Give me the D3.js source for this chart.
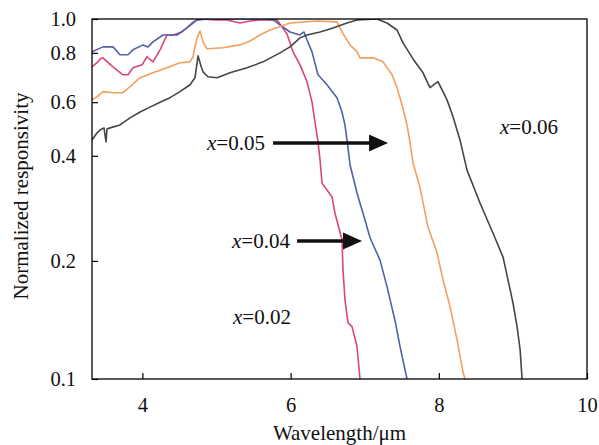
<html><head>
<meta charset="utf-8">
<script src="https://d3js.org/d3.v7.min.js"></script>
</head>
<body style="margin:0;background:#fff">
<script type="text/javascript">

// x = 0.02 (pink)
var wl02 = [3.32, 3.401, 3.428, 3.468, 3.603, 3.738, 3.806, 3.873, 3.995, 4.062, 4.143, 4.238, 4.332, 4.413, 4.535, 4.67, 4.737, 4.818, 4.98, 5.142, 5.317, 5.452, 5.587, 5.817, 5.952, 6.033, 6.127, 6.222, 6.289, 6.329, 6.37, 6.397, 6.424, 6.559, 6.599, 6.694, 6.707, 6.734, 6.775, 6.829, 6.896, 6.937];
var r02  = [0.737, 0.759, 0.772, 0.777, 0.737, 0.704, 0.704, 0.733, 0.746, 0.782, 0.759, 0.816, 0.9, 0.9, 0.918, 0.974, 0.994, 1.0, 0.994, 0.994, 0.974, 0.987, 0.994, 0.994, 0.906, 0.805, 0.746, 0.676, 0.6, 0.517, 0.444, 0.39, 0.334, 0.305, 0.274, 0.23, 0.19, 0.159, 0.139, 0.136, 0.121, 0.1];

// x = 0.04 (blue)
var wl04 = [3.32, 3.468, 3.603, 3.698, 3.806, 3.873, 4.009, 4.076, 4.143, 4.278, 4.467, 4.602, 4.737, 4.912, 5.655, 5.763, 5.992, 6.127, 6.181, 6.222, 6.289, 6.37, 6.491, 6.626, 6.694, 6.734, 6.775, 6.802, 6.896, 7.004, 7.072, 7.207, 7.301, 7.409, 7.477, 7.571];
var r04  = [0.805, 0.832, 0.832, 0.791, 0.791, 0.816, 0.843, 0.832, 0.86, 0.9, 0.9, 0.943, 0.994, 1.0, 1.0, 0.994, 0.918, 0.9, 0.918, 0.871, 0.805, 0.704, 0.664, 0.616, 0.557, 0.505, 0.425, 0.377, 0.313, 0.262, 0.233, 0.201, 0.172, 0.141, 0.121, 0.1];

// x = 0.05 (orange)
var wl05 = [3.32, 3.387, 3.468, 3.603, 3.738, 3.86, 3.968, 4.143, 4.332, 4.508, 4.643, 4.683, 4.737, 4.778, 4.818, 4.872, 5.088, 5.317, 5.452, 5.587, 5.722, 5.992, 6.356, 6.626, 6.694, 6.802, 6.896, 6.937, 7.112, 7.247, 7.369, 7.436, 7.504, 7.571, 7.611, 7.652, 7.746, 7.854, 7.976, 8.057, 8.151, 8.246, 8.327, 8.354];
var r05  = [0.608, 0.619, 0.638, 0.634, 0.634, 0.664, 0.692, 0.712, 0.733, 0.755, 0.759, 0.782, 0.883, 0.924, 0.86, 0.822, 0.827, 0.843, 0.865, 0.9, 0.93, 0.974, 0.987, 0.981, 0.918, 0.843, 0.805, 0.777, 0.777, 0.759, 0.704, 0.653, 0.587, 0.505, 0.444, 0.382, 0.325, 0.25, 0.211, 0.179, 0.153, 0.126, 0.104, 0.1];

// x = 0.06 (dark grey)
var wl06 = [3.32, 3.387, 3.428, 3.482, 3.509, 3.522, 3.563, 3.698, 3.833, 3.968, 4.103, 4.238, 4.373, 4.508, 4.643, 4.71, 4.751, 4.791, 4.818, 4.885, 5.007, 5.182, 5.412, 5.628, 5.857, 5.992, 6.127, 6.222, 6.397, 6.572, 6.761, 6.896, 7.166, 7.301, 7.436, 7.517, 7.652, 7.787, 7.881, 7.989, 8.111, 8.192, 8.286, 8.381, 8.556, 8.732, 8.867, 8.934, 9.002, 9.056, 9.097, 9.124];
var r06  = [0.451, 0.475, 0.486, 0.494, 0.444, 0.49, 0.494, 0.505, 0.533, 0.557, 0.578, 0.6, 0.616, 0.638, 0.664, 0.692, 0.786, 0.741, 0.716, 0.696, 0.692, 0.712, 0.733, 0.759, 0.8, 0.832, 0.883, 0.9, 0.918, 0.943, 0.974, 0.994, 1.0, 0.974, 0.93, 0.854, 0.772, 0.712, 0.653, 0.676, 0.608, 0.537, 0.451, 0.364, 0.293, 0.24, 0.205, 0.179, 0.156, 0.136, 0.119, 0.1];

var xTicks = [4, 6, 8, 10];
var yTicks = [0.1, 0.2, 0.4, 0.6, 0.8, 1.0];
var labels = ["x=0.02", "x=0.04", "x=0.05", "x=0.06"];

var width = 599, height = 445;
var margin = {left: 92, right: 12, top: 19, bottom: 66};
var plotW = width - margin.left - margin.right,
    plotH = height - margin.top - margin.bottom;

var svg = d3.select("body").append("svg")
    .attr("width", width)
    .attr("height", height);

var g = svg.append("g")
    .attr("transform", "translate(" + margin.left + "," + margin.top + ")");

var x = d3.scaleLinear().domain([3.32, 10]).range([0, plotW]);

// the original axis is log-like but its ticks are not evenly spaced,
// so use a piecewise log scale through the printed tick positions
var y = d3.scaleLog()
    .domain(yTicks)
    .range([plotH, plotH * 0.672, plotH * 0.38, plotH * 0.231, plotH * 0.094, 0]);

g.append("clipPath").attr("id", "clip")
  .append("rect").attr("width", plotW).attr("height", plotH);

var line = d3.line()
    .x(function(d) { return x(d[0]); })
    .y(function(d) { return y(d[1]); });

var series = [
    {wl: wl02, r: r02, color: "#d9457c"},
    {wl: wl04, r: r04, color: "#5261a8"},
    {wl: wl05, r: r05, color: "#f2a05e"},
    {wl: wl06, r: r06, color: "#454545"}
];

series.forEach(function(s) {
    g.append("path")
        .datum(d3.zip(s.wl, s.r))
        .attr("clip-path", "url(#clip)")
        .attr("fill", "none")
        .attr("stroke", s.color)
        .attr("stroke-width", 1.6)
        .attr("stroke-linejoin", "round")
        .attr("d", line);
});

// axes, ticks point inwards
function styleAxis(sel) {
    sel.attr("font-size", 20.5);
    sel.select(".domain").remove();
    sel.selectAll(".tick line").attr("stroke", "#000").attr("stroke-width", 1.2);
}

g.append("g")
    .attr("transform", "translate(0," + plotH + ")")
    .call(d3.axisBottom(x).tickValues(xTicks).tickSizeInner(-6).tickSizeOuter(0).tickPadding(18)
        .tickFormat(d3.format("d")))
    .call(styleAxis);

g.append("g")
    .call(d3.axisLeft(y).tickValues(yTicks).tickSizeInner(-6).tickSizeOuter(0).tickPadding(16)
        .tickFormat(d3.format(".1f")))
    .call(styleAxis);

// frame
g.append("rect")
    .attr("width", plotW)
    .attr("height", plotH)
    .attr("fill", "none")
    .attr("stroke", "#000")
    .attr("stroke-width", 1.3);

// axis titles
svg.append("text")
    .attr("x", margin.left + plotW / 2)
    .attr("y", 440)
    .attr("text-anchor", "middle")
    .attr("font-size", 21)
    .text("Wavelength/\u03bcm");

svg.append("text")
    .attr("transform", "translate(28," + (margin.top + plotH / 2 - 3) + ") rotate(-90)")
    .attr("text-anchor", "middle")
    .attr("font-size", 21)
    .text("Normalized responsivity");

// curve labels: [wavelength, responsivity] of the text start
var labelPos = [[5.223, 0.138], [5.209, 0.218], [4.872, 0.419], [8.826, 0.472]];

labels.forEach(function(l, i) {
    var t = g.append("text")
        .attr("x", x(labelPos[i][0]))
        .attr("y", y(labelPos[i][1]))
        .attr("font-size", 21);
    t.append("tspan").attr("font-style", "italic").text(l.slice(0, 1));
    t.append("tspan").text(l.slice(1));
});

// arrows: [from wl, to wl, responsivity]
var arrows = [[5.763, 7.315, 0.441], [6.087, 6.964, 0.228]];

arrows.forEach(function(a) {
    var x0 = x(a[0]), x1 = x(a[1]), yy = y(a[2]);
    g.append("line")
        .attr("x1", x0).attr("x2", x1 - 14)
        .attr("y1", yy).attr("y2", yy)
        .attr("stroke", "#111")
        .attr("stroke-width", 3.5);
    g.append("path")
        .attr("d", "M" + x1 + "," + yy + "L" + (x1 - 19) + "," + (yy - 8.5) +
                   "L" + (x1 - 19) + "," + (yy + 8.5) + "Z")
        .attr("fill", "#111");
});

// serif everywhere, set on each text node
svg.selectAll("text")
    .attr("fill", "#111")
    .style("font-family", "'Liberation Serif', 'Times New Roman', serif");

</script>
</body></html>
